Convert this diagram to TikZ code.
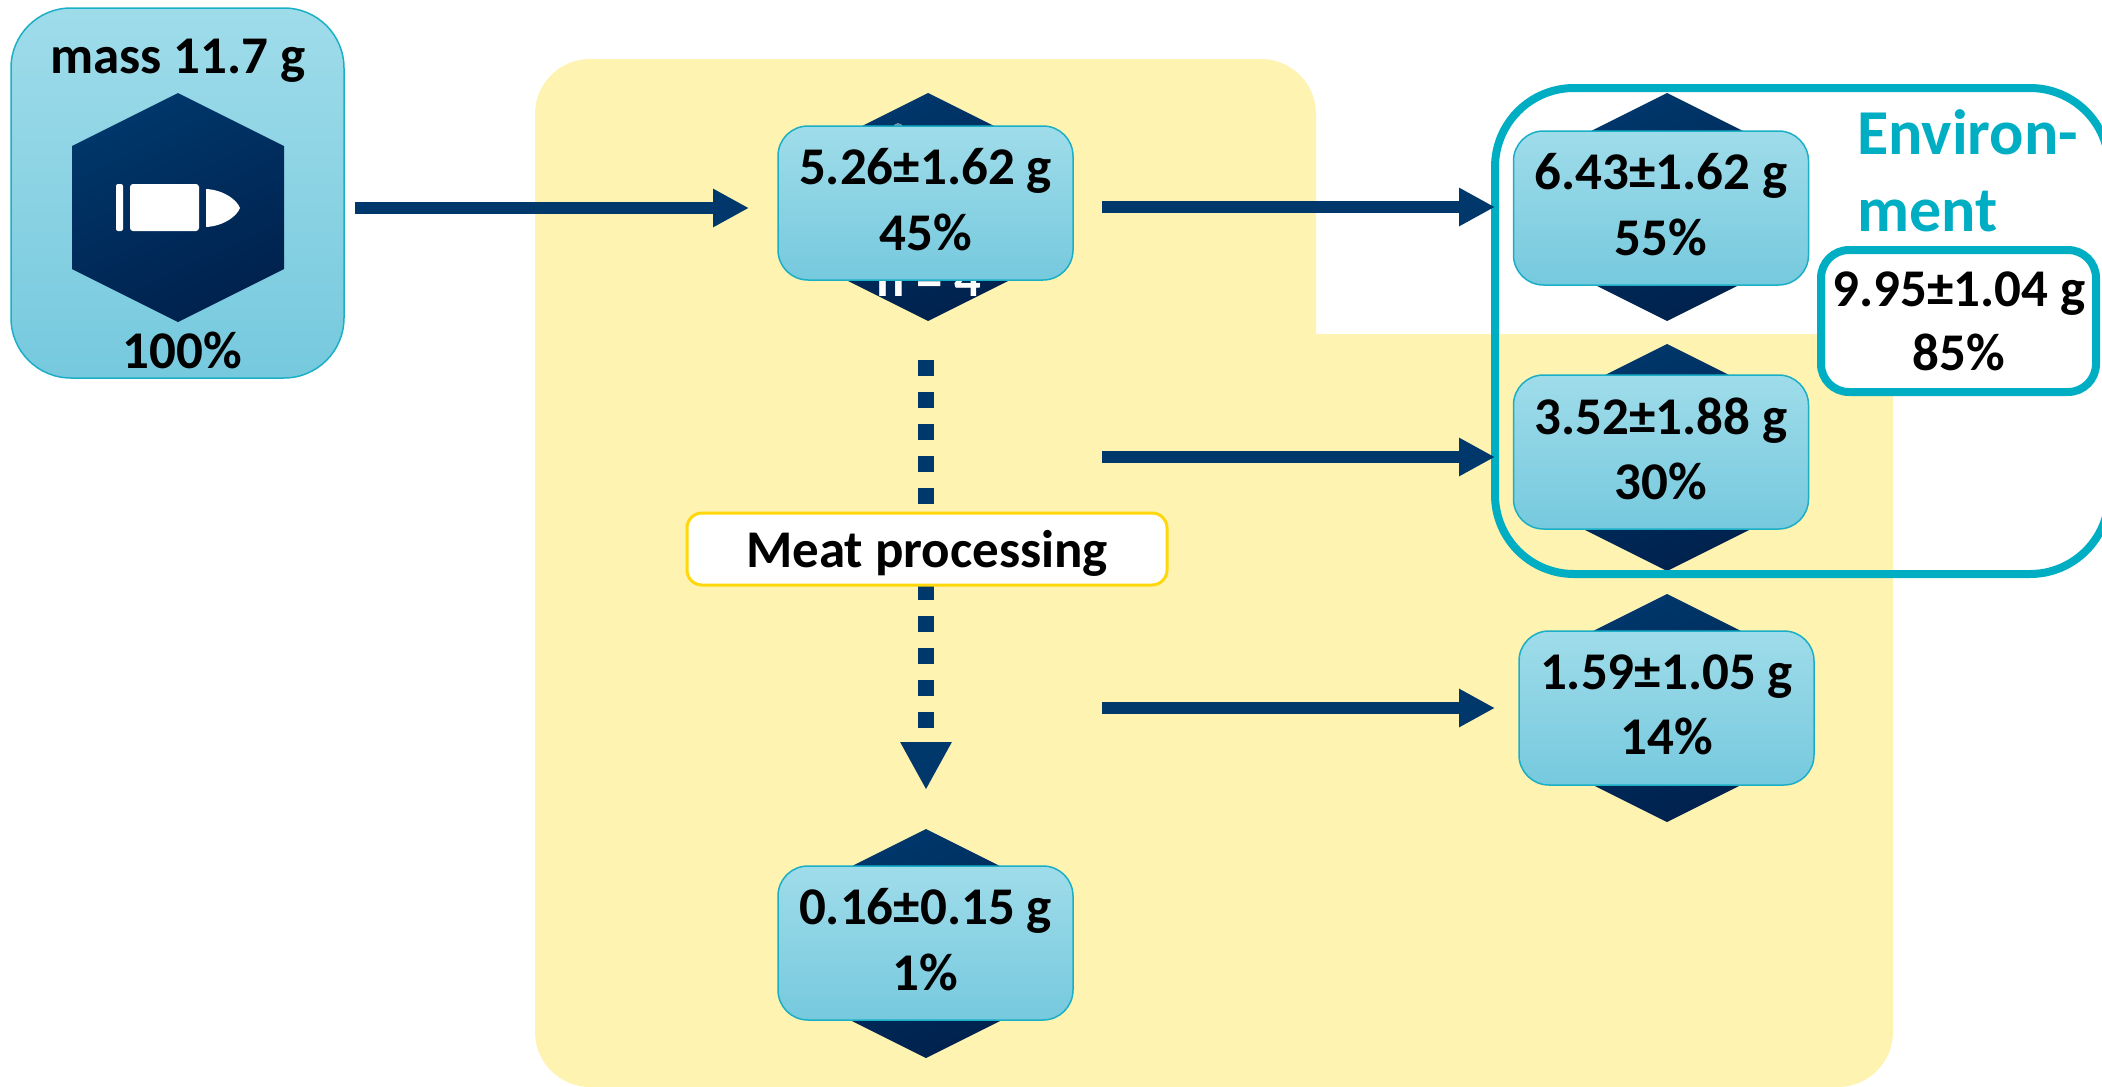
\documentclass[tikz,border=0pt]{standalone}
\usepackage{fontspec}
\setmainfont{Carlito}
\usetikzlibrary{arrows.meta}
\definecolor{hexTop}{HTML}{00376B}
\definecolor{hexBot}{HTML}{00214D}
\definecolor{boxTop}{HTML}{9FDCEA}
\definecolor{boxBot}{HTML}{76C9DE}
\definecolor{boxLine}{HTML}{1AAFC6}
\definecolor{envLine}{HTML}{00AEC4}
\definecolor{farm}{HTML}{FEF3B0}
\definecolor{arrowCol}{HTML}{00386B}
\definecolor{meatLine}{HTML}{FFD70A}
\tikzset{
  x=1pt,y=-1pt,
  hexshape/.style={top color=hexTop,bottom color=hexBot,shading angle=25},
  valbox/.style={draw=boxLine,line width=1.5pt,top color=boxTop,bottom color=boxBot,rounded corners=30pt,
    minimum width=295pt,minimum height=154pt,inner sep=0pt,align=center,
    font=\fontsize{53}{65.5}\selectfont\bfseries,text=black,
    execute at end node={\rule[-7pt]{0pt}{7pt}}},
  flow/.style={draw=arrowCol,line width=12pt,-{Triangle[length=36pt,width=36pt,fill=arrowCol]}},
  txt/.style={inner sep=0pt,anchor=base,font=\fontsize{53}{64}\selectfont\bfseries,text=black},
}
\newcommand{\hexat}[3]{\shade[hexshape] (#1,#2) -- (#1+106,#2+53) -- (#1+106,#3-53) -- (#1,#3) -- (#1-106,#3-53) -- (#1-106,#2+53) -- cycle;}
\begin{document}
\begin{tikzpicture}
\clip (0,0) rectangle (2102,1087);
% farm / processing area
\fill[farm,rounded corners=55pt] (535,300) -- (535,59) -- (1316,59) -- (1316,280) [sharp corners] -- (1316,334) -- (1893,334) -- (1893,500) [rounded corners=55pt] -- (1893,1087) -- (535,1087) -- cycle;
% source
\node[valbox,rounded corners=60pt,minimum width=333pt,minimum height=370pt,execute at end node={}] (src) at (177.5,193) {};
\hexat{178}{93}{322}
\fill[white,rounded corners=2pt] (116,184) rectangle (123,231);
\fill[white,rounded corners=3pt] (130,184) rectangle (199,231);
\fill[white] (206,189) .. controls (224,190) and (237,200) .. (240,208) .. controls (237,216) and (224,226) .. (206,227) -- cycle;
\node[txt] (massT) at (178,73) {mass 11.7 g};
\node[txt] (pctT) at (182,368) {100\%};
% hexagons behind value boxes
\hexat{928}{93}{321}
\node[txt,text=white] (nT) at (929,296) {n = 4};
\fill[white!45!hexTop] (898,128) circle[radius=5];
\hexat{1667}{93}{321}
\hexat{1667}{344}{571}
\hexat{1667}{594}{822}
\hexat{926}{829}{1058}
% value boxes
\node[valbox] (a) at (925.5,203) {5.26±1.62 g\\45\%};
\node[valbox] (b) at (1661,208) {6.43±1.62 g\\55\%};
\node[valbox] (c) at (1661,452) {3.52±1.88 g\\30\%};
\node[valbox] (d) at (1666.5,708) {1.59±1.05 g\\14\%};
\node[valbox] (e) at (925.5,943) {0.16±0.15 g\\1\%};
% environment frame
\node[draw=envLine,line width=8pt,outer sep=0pt,rounded corners=79pt,inner sep=0pt,minimum width=614pt,minimum height=486pt,anchor=north west] (env) at (1495,88) {};
\node[inner sep=0pt,anchor=base west,align=left,text=envLine,font=\fontsize{64}{77}\selectfont\bfseries] (envT) at (1857,231.5) {Environ-\\ment};
\node[draw=envLine,line width=8pt,fill=white,rounded corners=28pt,minimum width=275pt,minimum height=142pt,inner sep=0pt] (tot) at (1958.5,321) {};
\node[txt,align=center,font=\fontsize{53}{63.5}\selectfont\bfseries] (totT) at (1959,370) {9.95±1.04 g\\85\%};
% connectors
\coordinate (s1) at (355,208);
\coordinate (t1) at (749,208);
\coordinate (s2) at (1102,207);
\coordinate (t2) at (1495,207);
\coordinate (s3) at (1102,457);
\coordinate (t3) at (1495,457);
\coordinate (s4) at (1102,708);
\coordinate (t4) at (1495,708);
\coordinate (s5) at (926,360);
\coordinate (t5) at (926,790);
\draw[flow] (s1) -- (t1);
\draw[flow] (s2) -- (t2);
\draw[flow] (s3) -- (t3);
\draw[flow] (s4) -- (t4);
\draw[draw=arrowCol,line width=16pt,dash pattern=on 16pt off 16pt,-{Triangle[length=48pt,width=48pt,fill=arrowCol]}] (s5) -- (t5);
\node[draw=meatLine,fill=white,line width=3pt,rounded corners=15pt,minimum width=480pt,minimum height=72pt,inner sep=0pt] (meat) at (927,549) {};
\node[txt] (meatT) at (927,567) {Meat processing};
\end{tikzpicture}
\end{document}
